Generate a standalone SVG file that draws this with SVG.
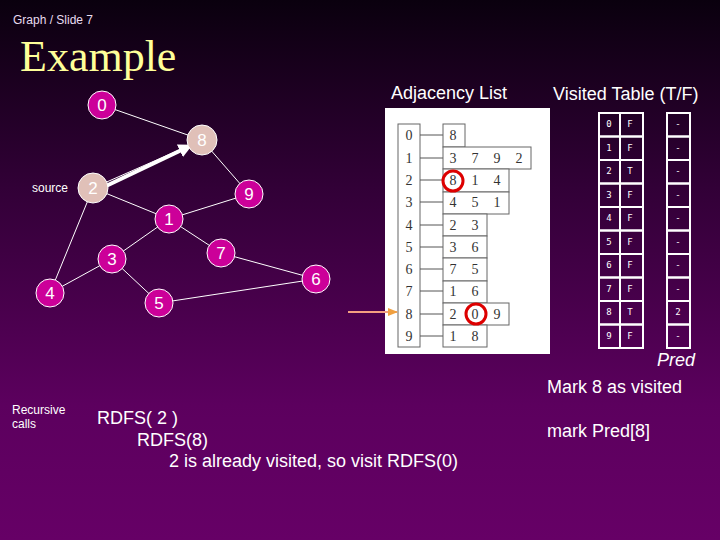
<svg xmlns="http://www.w3.org/2000/svg" width="720" height="540" viewBox="0 0 720 540">
<defs>
<linearGradient id="bg" x1="0" y1="0" x2="0" y2="1">
<stop offset="0" stop-color="#0a000e"/>
<stop offset="0.35" stop-color="#320037"/>
<stop offset="0.75" stop-color="#5c005e"/>
<stop offset="1" stop-color="#660066"/>
</linearGradient>
<marker id="wh" viewBox="0 0 10 10" refX="8" refY="5" markerWidth="3.5" markerHeight="3.5" orient="auto"><path d="M0,0 L10,5 L0,10 z" fill="#ffffff"/></marker>
<marker id="oh" viewBox="0 0 10 10" refX="9" refY="5" markerWidth="5" markerHeight="5" orient="auto"><path d="M0,1 L10,5 L0,9 z" fill="#f0a040"/></marker>
<style>
.nd{fill:#cc0099;stroke:#ffffff;stroke-width:1}
.vs{fill:#e0c0b8;stroke:#ffffff;stroke-width:1}
.nl{font-family:"Liberation Sans",Arial,sans-serif;font-size:17px;fill:#ffffff;text-anchor:middle}
.ed{stroke:#ffffff;stroke-width:1;fill:none}
.t16{font-family:"Liberation Sans",Arial,sans-serif;font-size:18px;fill:#ffffff}
.t12{font-family:"Liberation Sans",Arial,sans-serif;font-size:12px;fill:#ffffff}
.ad{font-family:"Liberation Serif","Times New Roman",serif;font-size:14px;fill:#333333;text-anchor:middle}
.ab{fill:#ffffff;stroke:#666666;stroke-width:1}
.vt{fill:none;stroke:#ffffff;stroke-width:2}
.vx{font-family:"DejaVu Sans Mono",monospace;font-size:9px;fill:#ffffff;text-anchor:middle}
</style>
</defs>
<rect width="720" height="540" fill="url(#bg)"/>
<text x="13" y="24" font-family="Liberation Sans,Arial,sans-serif" font-size="12" fill="#e8dcf0">Graph / Slide 7</text>
<text x="20" y="71" font-family="Liberation Serif,Times New Roman,serif" font-size="44" fill="#ffff99">Example</text>

<g id="connectors">
<line class="ed" x1="102" y1="105" x2="202" y2="140"/>
<line class="ed" x1="202" y1="140" x2="249" y2="194"/>
<line class="ed" x1="249" y1="194" x2="169" y2="219"/>
<line class="ed" x1="93" y1="188" x2="169" y2="219"/>
<line class="ed" x1="93" y1="188" x2="50" y2="293"/>
<line class="ed" x1="93" y1="188" x2="202" y2="140"/>
<line class="ed" x1="169" y1="219" x2="112" y2="259"/>
<line class="ed" x1="169" y1="219" x2="221" y2="253"/>
<line class="ed" x1="112" y1="259" x2="50" y2="293"/>
<line class="ed" x1="112" y1="259" x2="159" y2="303"/>
<line class="ed" x1="221" y1="253" x2="316" y2="279"/>
<line class="ed" x1="159" y1="303" x2="316" y2="279"/>
<line x1="106" y1="186" x2="190" y2="146" stroke="#ffffff" stroke-width="4" marker-end="url(#wh)"/>
</g>

<g id="n0"><circle class="nd" cx="102" cy="105" r="14"/><text class="nl" x="102" y="111">0</text></g>
<g id="n8"><circle class="vs" cx="202" cy="140" r="15"/><text class="nl" x="202" y="146">8</text></g>
<g id="n2"><circle class="vs" cx="93" cy="188" r="15"/><text class="nl" x="93" y="194">2</text></g>
<g id="n9"><circle class="nd" cx="249" cy="194" r="14"/><text class="nl" x="249" y="200">9</text></g>
<g id="n1"><circle class="nd" cx="169" cy="219" r="14"/><text class="nl" x="169" y="225">1</text></g>
<g id="n7"><circle class="nd" cx="221" cy="253" r="14"/><text class="nl" x="221" y="259">7</text></g>
<g id="n3"><circle class="nd" cx="112" cy="259" r="14"/><text class="nl" x="112" y="265">3</text></g>
<g id="n6"><circle class="nd" cx="316" cy="279" r="14"/><text class="nl" x="316" y="285">6</text></g>
<g id="n4"><circle class="nd" cx="50" cy="293" r="14"/><text class="nl" x="50" y="299">4</text></g>
<g id="n5"><circle class="nd" cx="159" cy="303" r="14"/><text class="nl" x="159" y="309">5</text></g>
<text class="t12" x="32" y="192">source</text>

<text class="t16" x="391" y="99">Adjacency List</text>
<g id="adjlist">
<rect x="385" y="108" width="165" height="246" fill="#ffffff"/>
<rect class="ab" x="398" y="124" width="22" height="223"/>
<g stroke="#555555" stroke-width="1">
<line x1="420" y1="135" x2="443" y2="135"/>
<line x1="420" y1="158" x2="443" y2="158"/>
<line x1="420" y1="180" x2="443" y2="180"/>
<line x1="420" y1="202" x2="443" y2="202"/>
<line x1="420" y1="225" x2="443" y2="225"/>
<line x1="420" y1="247" x2="443" y2="247"/>
<line x1="420" y1="269" x2="443" y2="269"/>
<line x1="420" y1="291" x2="443" y2="291"/>
<line x1="420" y1="314" x2="443" y2="314"/>
<line x1="420" y1="336" x2="443" y2="336"/>
</g>
<rect class="ab" x="443" y="124" width="22" height="23"/>
<rect class="ab" x="443" y="147" width="88" height="22"/>
<rect class="ab" x="443" y="169" width="66" height="23"/>
<rect class="ab" x="443" y="192" width="66" height="22"/>
<rect class="ab" x="443" y="214" width="44" height="22"/>
<rect class="ab" x="443" y="236" width="44" height="22"/>
<rect class="ab" x="443" y="258" width="44" height="23"/>
<rect class="ab" x="443" y="281" width="44" height="22"/>
<rect class="ab" x="443" y="303" width="66" height="22"/>
<rect class="ab" x="443" y="325" width="44" height="22"/>
<text class="ad" x="409" y="140">0</text><text class="ad" x="409" y="163">1</text><text class="ad" x="409" y="185">2</text><text class="ad" x="409" y="207">3</text><text class="ad" x="409" y="230">4</text><text class="ad" x="409" y="252">5</text><text class="ad" x="409" y="274">6</text><text class="ad" x="409" y="296">7</text><text class="ad" x="409" y="319">8</text><text class="ad" x="409" y="341">9</text>
<text class="ad" x="453" y="140">8</text>
<text class="ad" x="453" y="163">3</text><text class="ad" x="475" y="163">7</text><text class="ad" x="497" y="163">9</text><text class="ad" x="519" y="163">2</text>
<text class="ad" x="453" y="185">8</text><text class="ad" x="475" y="185">1</text><text class="ad" x="497" y="185">4</text>
<text class="ad" x="453" y="207">4</text><text class="ad" x="475" y="207">5</text><text class="ad" x="497" y="207">1</text>
<text class="ad" x="453" y="230">2</text><text class="ad" x="475" y="230">3</text>
<text class="ad" x="453" y="252">3</text><text class="ad" x="475" y="252">6</text>
<text class="ad" x="453" y="274">7</text><text class="ad" x="475" y="274">5</text>
<text class="ad" x="453" y="296">1</text><text class="ad" x="475" y="296">6</text>
<text class="ad" x="453" y="319">2</text><text class="ad" x="475" y="319">0</text><text class="ad" x="497" y="319">9</text>
<text class="ad" x="453" y="341">1</text><text class="ad" x="475" y="341">8</text>
<circle cx="453" cy="181" r="10" fill="none" stroke="#dd0000" stroke-width="3"/>
<circle cx="476" cy="314" r="10" fill="none" stroke="#dd0000" stroke-width="3"/>
</g>
<g id="pointer">
<line x1="348" y1="312" x2="397" y2="312" stroke="#f4a080" stroke-width="2" marker-end="url(#oh)"/>
</g>

<text class="t16" x="553" y="100">Visited Table (T/F)</text>
<g id="visited">
<rect class="vt" x="599" y="113" width="21" height="23.5"/><rect class="vt" x="620" y="113" width="23" height="23.5"/><rect class="vt" x="667" y="113" width="23" height="23.5"/>
<rect class="vt" x="599" y="136.5" width="21" height="23.5"/><rect class="vt" x="620" y="136.5" width="23" height="23.5"/><rect class="vt" x="667" y="136.5" width="23" height="23.5"/>
<rect class="vt" x="599" y="160" width="21" height="23.5"/><rect class="vt" x="620" y="160" width="23" height="23.5"/><rect class="vt" x="667" y="160" width="23" height="23.5"/>
<rect class="vt" x="599" y="183.5" width="21" height="23.5"/><rect class="vt" x="620" y="183.5" width="23" height="23.5"/><rect class="vt" x="667" y="183.5" width="23" height="23.5"/>
<rect class="vt" x="599" y="207" width="21" height="23.5"/><rect class="vt" x="620" y="207" width="23" height="23.5"/><rect class="vt" x="667" y="207" width="23" height="23.5"/>
<rect class="vt" x="599" y="230.5" width="21" height="23.5"/><rect class="vt" x="620" y="230.5" width="23" height="23.5"/><rect class="vt" x="667" y="230.5" width="23" height="23.5"/>
<rect class="vt" x="599" y="254" width="21" height="23.5"/><rect class="vt" x="620" y="254" width="23" height="23.5"/><rect class="vt" x="667" y="254" width="23" height="23.5"/>
<rect class="vt" x="599" y="277.5" width="21" height="23.5"/><rect class="vt" x="620" y="277.5" width="23" height="23.5"/><rect class="vt" x="667" y="277.5" width="23" height="23.5"/>
<rect class="vt" x="599" y="301" width="21" height="23.5"/><rect class="vt" x="620" y="301" width="23" height="23.5"/><rect class="vt" x="667" y="301" width="23" height="23.5"/>
<rect class="vt" x="599" y="324.5" width="21" height="23.5"/><rect class="vt" x="620" y="324.5" width="23" height="23.5"/><rect class="vt" x="667" y="324.5" width="23" height="23.5"/>
<text class="vx" x="609" y="127">0</text><text class="vx" x="630" y="127">F</text><text class="vx" x="678" y="127">-</text>
<text class="vx" x="609" y="151">1</text><text class="vx" x="630" y="151">F</text><text class="vx" x="678" y="151">-</text>
<text class="vx" x="609" y="174">2</text><text class="vx" x="630" y="174">T</text><text class="vx" x="678" y="174">-</text>
<text class="vx" x="609" y="198">3</text><text class="vx" x="630" y="198">F</text><text class="vx" x="678" y="198">-</text>
<text class="vx" x="609" y="221">4</text><text class="vx" x="630" y="221">F</text><text class="vx" x="678" y="221">-</text>
<text class="vx" x="609" y="245">5</text><text class="vx" x="630" y="245">F</text><text class="vx" x="678" y="245">-</text>
<text class="vx" x="609" y="268">6</text><text class="vx" x="630" y="268">F</text><text class="vx" x="678" y="268">-</text>
<text class="vx" x="609" y="292">7</text><text class="vx" x="630" y="292">F</text><text class="vx" x="678" y="292">-</text>
<text class="vx" x="609" y="315">8</text><text class="vx" x="630" y="315">T</text><text class="vx" x="678" y="315">2</text>
<text class="vx" x="609" y="339">9</text><text class="vx" x="630" y="339">F</text><text class="vx" x="678" y="339">-</text>
</g>
<text class="t16" x="657" y="366" font-style="italic" font-size="17">Pred</text>
<text class="t16" x="547" y="393">Mark 8 as visited</text>
<text class="t16" x="547" y="437">mark Pred[8]</text>

<text class="t12" x="12" y="414">Recursive</text>
<text class="t12" x="12" y="428">calls</text>
<text class="t16" x="97" y="424">RDFS( 2 )</text>
<text class="t16" x="137" y="446">RDFS(8)</text>
<text class="t16" x="169" y="467">2 is already visited, so visit RDFS(0)</text>
</svg>
